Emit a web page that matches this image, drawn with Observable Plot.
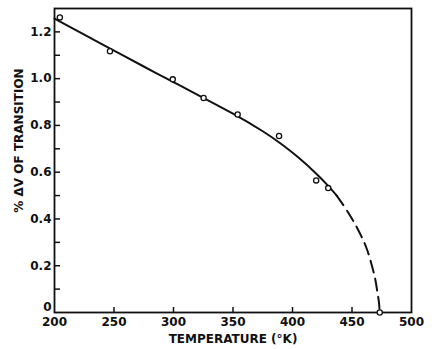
<!DOCTYPE html>
<html>
<head>
<meta charset="utf-8">
<script src="https://cdn.jsdelivr.net/npm/d3@7"></script>
<script src="https://cdn.jsdelivr.net/npm/@observablehq/plot@0.6"></script>
<style>
  html, body { margin: 0; padding: 0; background: #fff; }
  svg { display: block; }
</style>
</head>
<body>
<div id="chart"></div>
<script>
// Measured points (temperature K, % ΔV of transition)
const pointT = [204.5, 246.6, 299.4, 325.3, 353.9, 388.7, 419.9, 430, 473.3];
const pointV = [1.262, 1.117, 0.997, 0.917, 0.847, 0.755, 0.565, 0.532, 0];

// Fitted curve, solid part
const solidT = [200, 225, 250, 275, 300, 325, 350, 375, 390, 405, 420, 430, 437];
const solidV = [1.257, 1.188, 1.12, 1.052, 0.985, 0.918, 0.85, 0.775, 0.7225, 0.6625, 0.5935, 0.5415, 0.501];

// Extrapolated curve, dashed part
const dashT = [437, 446.5, 455, 462, 467, 469.7, 471.4, 472.6, 473.3];
const dashV = [0.501, 0.43, 0.355, 0.278, 0.195, 0.138, 0.085, 0.045, 0];

// Axis ticks
const xTickLabels = [200, 250, 300, 350, 400, 450, 500];
const xTickMarks = [250, 300, 350, 400, 450];
const yTickLabels = [0, 0.2, 0.4, 0.6, 0.8, 1.0, 1.2];
const yTickMarks = [0.1, 0.2, 0.3, 0.4, 0.5, 0.6, 0.7, 0.8, 0.9, 1.0, 1.1, 1.2];

const xTitle = "TEMPERATURE (°K)";
const yTitle = "% ΔV OF TRANSITION";

const points = pointT.map((t, i) => ({t, v: pointV[i]}));
const solid = solidT.map((t, i) => ({t, v: solidV[i]}));
const dashed = dashT.map((t, i) => ({t, v: dashV[i]}));
const fmtY = d => d === 0 ? "0" : d.toFixed(1);

const chart = Plot.plot({
  width: 436,
  height: 349,
  marginLeft: 54,
  marginRight: 25,
  marginTop: 8,
  marginBottom: 37,
  style: {fontFamily: "'DejaVu Sans', sans-serif", fontWeight: "bold", fontSize: "12px", color: "#111", background: "#fff"},
  x: {domain: [200, 500]},
  y: {domain: [0, 1.3]},
  marks: [
    Plot.axisX({ticks: xTickMarks, tickSize: -5, tickFormat: () => "", strokeWidth: 1.5, label: null}),
    Plot.axisX({ticks: xTickLabels, tickSize: 0, tickPadding: 5, tickFormat: d => String(d),
      label: xTitle, labelAnchor: "center", labelArrow: "none", labelOffset: 30}),
    Plot.axisY({ticks: yTickMarks, tickSize: -6, tickFormat: () => "", strokeWidth: 1.5, label: null}),
    Plot.axisY({ticks: yTickLabels.filter(d => d !== 0), tickSize: 0, tickPadding: 3, tickFormat: fmtY, label: null}),
    Plot.axisY({ticks: yTickLabels.filter(d => d === 0), tickSize: 0, tickPadding: 3, tickFormat: fmtY, label: null, dy: -5}),
    Plot.text([yTitle], {frameAnchor: "left", textAnchor: "middle", dx: -35, dy: -20, rotate: -90, fontSize: 12, fontWeight: "bold"}),
    Plot.frame({strokeWidth: 1.8, stroke: "#111"}),
    Plot.line(solid, {x: "t", y: "v", curve: "natural", strokeWidth: 2, stroke: "#111"}),
    Plot.line(dashed, {x: "t", y: "v", curve: "catmull-rom", strokeWidth: 2, stroke: "#111", strokeDasharray: "12,6.5"}),
    Plot.dot(points, {x: "t", y: "v", r: 2.6, stroke: "#111", strokeWidth: 1.3, fill: "#fff"})
  ]
});
document.getElementById("chart").appendChild(chart);
</script>
</body>
</html>
